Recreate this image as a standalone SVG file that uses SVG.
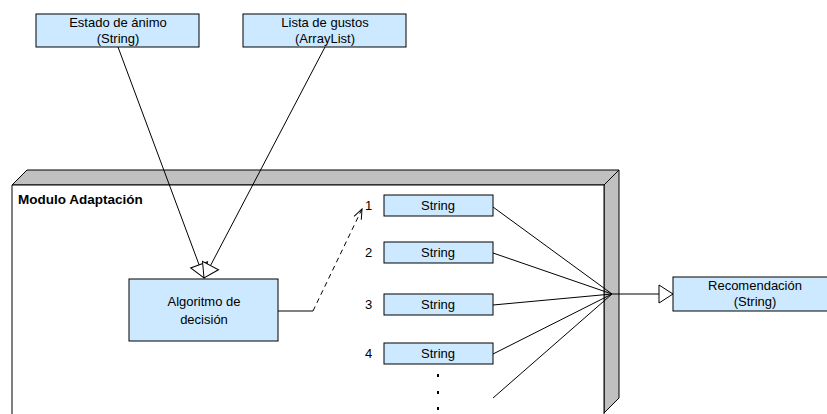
<svg xmlns="http://www.w3.org/2000/svg" width="827" height="414" viewBox="0 0 827 414">
<style>
.box{fill:#cce9ff;stroke:#000;stroke-width:1}
.t{font-family:"Liberation Sans",Arial,sans-serif;font-size:13px;fill:#000;text-anchor:middle}
.n{font-family:"Liberation Sans",Arial,sans-serif;font-size:13px;fill:#000}
.c{fill:none;stroke:#000;stroke-width:1}
</style>
<defs>
<marker id="tri" viewBox="0 0 16 20" refX="15" refY="10" markerWidth="16" markerHeight="20" orient="auto" markerUnits="userSpaceOnUse">
<path d="M1,1 L15,10 L1,19 Z" fill="#fff" stroke="#000" stroke-width="1"/>
</marker>
<marker id="open" viewBox="0 0 12 10" refX="11" refY="5" markerWidth="12" markerHeight="10" orient="auto" markerUnits="userSpaceOnUse">
<path d="M1,1 L11,5 L1,9" fill="none" stroke="#000" stroke-width="1"/>
</marker>
</defs>
<rect width="827" height="414" fill="#fff"/>
<g id="modulo">
<polygon points="12,185 27,170 619,170 604,185" fill="#c0c0c0" stroke="#000"/>
<polygon points="604,185 619,170 619,398 604,413" fill="#c0c0c0" stroke="#000"/>
<polyline points="12,414 12,185 604,185 604,414" fill="#fff" stroke="#000"/>
<text x="18" y="204" font-family="'Liberation Sans',Arial,sans-serif" font-size="13.5" font-weight="bold">Modulo Adaptación</text>
</g>
<g id="connectors">
<line class="c" x1="118" y1="47" x2="204" y2="278" marker-end="url(#tri)"/>
<line class="c" x1="325" y1="47" x2="204" y2="278" marker-end="url(#tri)"/>
<polyline class="c" points="278,311 313,311"/>
<line class="c" x1="313" y1="311" x2="362" y2="209" stroke-dasharray="5,4" marker-end="url(#open)"/>
<line class="c" x1="493" y1="207" x2="612" y2="294"/>
<line class="c" x1="493" y1="253" x2="612" y2="294"/>
<line class="c" x1="493" y1="305" x2="612" y2="294"/>
<line class="c" x1="493" y1="354" x2="612" y2="294"/>
<line class="c" x1="493" y1="398" x2="612" y2="294"/>
<line class="c" x1="612" y1="294" x2="673" y2="294" marker-end="url(#tri)"/>
</g>
<g id="estado">
<rect class="box" x="36" y="14" width="163" height="33"/>
<text class="t" x="118" y="27">Estado de ánimo</text>
<text class="t" x="118" y="43">(String)</text>
</g>
<g id="lista">
<rect class="box" x="243" y="14" width="163" height="33"/>
<text class="t" x="325" y="27">Lista de gustos</text>
<text class="t" x="325" y="43">(ArrayList)</text>
</g>
<g id="algoritmo">
<rect class="box" x="129" y="279" width="149" height="62"/>
<text class="t" x="204" y="306">Algoritmo de</text>
<text class="t" x="204" y="324">decisión</text>
</g>
<g id="s1">
<rect class="box" x="384" y="195" width="109" height="21"/>
<text class="t" x="438" y="210">String</text>
<text class="n" x="365" y="210">1</text>
</g>
<g id="s2">
<rect class="box" x="384" y="242" width="109" height="21"/>
<text class="t" x="438" y="257">String</text>
<text class="n" x="365" y="257">2</text>
</g>
<g id="s3">
<rect class="box" x="384" y="294" width="109" height="21"/>
<text class="t" x="438" y="309">String</text>
<text class="n" x="365" y="309">3</text>
</g>
<g id="s4">
<rect class="box" x="384" y="343" width="109" height="21"/>
<text class="t" x="438" y="358">String</text>
<text class="n" x="365" y="358">4</text>
</g>
<g id="dots" fill="#000">
<rect x="437" y="374" width="2" height="3"/>
<rect x="437" y="391" width="2" height="3"/>
<rect x="437" y="407" width="2" height="3"/>
</g>
<g id="recomendacion">
<rect class="box" x="673" y="277" width="160" height="34"/>
<text class="t" x="755" y="290">Recomendación</text>
<text class="t" x="755" y="306">(String)</text>
</g>
</svg>
